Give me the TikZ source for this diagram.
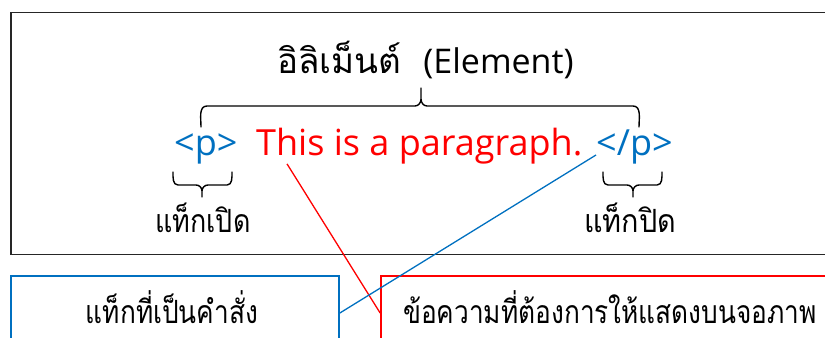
\documentclass[tikz,border=0pt]{standalone}
\usepackage{fontspec}
\setmainfont{Open Sans}
\newfontfamily\thaifont[Script=Thai]{Loma}
\usetikzlibrary{calc}
\definecolor{tagblue}{HTML}{0070C0}
\definecolor{txtred}{HTML}{FF0000}
\newcommand{\narrowthai}[2]{\scalebox{#1}[1]{\thaifont #2}}
\tikzset{
  bracket/.style={draw=black, line width=1.4bp, line join=round, line cap=round},
  frameline/.style={draw=black!85, line width=1.1bp, inner sep=0pt},
  boxline/.style={line width=1.7bp, inner sep=0pt, minimum height=74bp},
  connector/.style={line width=1.3bp},
  codetext/.style={inner sep=0pt, font=\fontsize{36bp}{42bp}\selectfont},
  thailabel/.style={inner sep=0pt, anchor=base, font=\fontsize{32bp}{38bp}\selectfont},
  thaibox/.style={inner sep=0pt, anchor=base, text depth=2bp, font=\fontsize{32bp}{38bp}\selectfont},
}
\begin{document}
\begin{tikzpicture}[x=1bp,y=-1bp]
\useasboundingbox (0,0) rectangle (825,337);
\clip (0,0) rectangle (825,337);
% outer frame
\node[frameline, minimum width=822bp, minimum height=242bp] (frame) at (422,133.5) {};
% title
\node[inner sep=0pt, anchor=base west, font=\fontsize{34bp}{40bp}\selectfont] (title) at (277,73)
  {{\thaifont\fontsize{35bp}{40bp}\selectfont อิลิเม็นต์}\hspace{22bp}(Element)};
% code line
\node[codetext, anchor=base west, text=tagblue] (otag) at (174,155) {<p>};
\node[codetext, anchor=base west, text=txtred] (para) at (256,155) {This is a paragraph.};
\node[codetext, anchor=base west, text=tagblue] (ctag) at (596,155) {</p>};
% big brace
\draw[bracket] (201,127) to[out=90,in=180] (207,106) -- (415,106) to[out=0,in=-90] (421,99) -- (421,88)
  (421,99) to[out=-90,in=180] (427,106) -- (633,106) to[out=0,in=90] (639,127);
% small braces
\draw[bracket] (173,172) to[out=-90,in=180] (178,185) -- (196,185) to[out=0,in=90] (202,191) -- (202,197)
  (202,191) to[out=90,in=180] (208,185) -- (227,185) to[out=0,in=-90] (232,172);
\draw[bracket] (603,172) to[out=-90,in=180] (608,185) -- (627,185) to[out=0,in=90] (633,191) -- (633,197)
  (633,191) to[out=90,in=180] (639,185) -- (657,185) to[out=0,in=-90] (662,172);
% labels
\node[thailabel] (openlbl) at (203,232) {\narrowthai{0.84}{แท็กเปิด}};
\node[thailabel] (closelbl) at (630,232) {\narrowthai{0.9}{แท็กปิด}};
% bottom boxes
\node[boxline, draw=tagblue, minimum width=328bp] (cmdbox) at (175,313) {};
\node[boxline, draw=txtred, minimum width=459bp] (msgbox) at (610.5,313) {};
\node[thaibox] (cmdtext) at (172,323) {\narrowthai{0.82}{แท็กที่เป็นคำสั่ง}};
\node[thaibox] (msgtext) at (610,323) {\narrowthai{0.82}{ข้อความที่ต้องการให้แสดงบนจอภาพ}};
% connectors
\draw[connector, txtred] ($(para.south west)+(31,0)$) -- (msgbox.west);
\draw[connector, tagblue] (ctag.base west) -- (cmdbox.east);
\end{tikzpicture}
\end{document}
